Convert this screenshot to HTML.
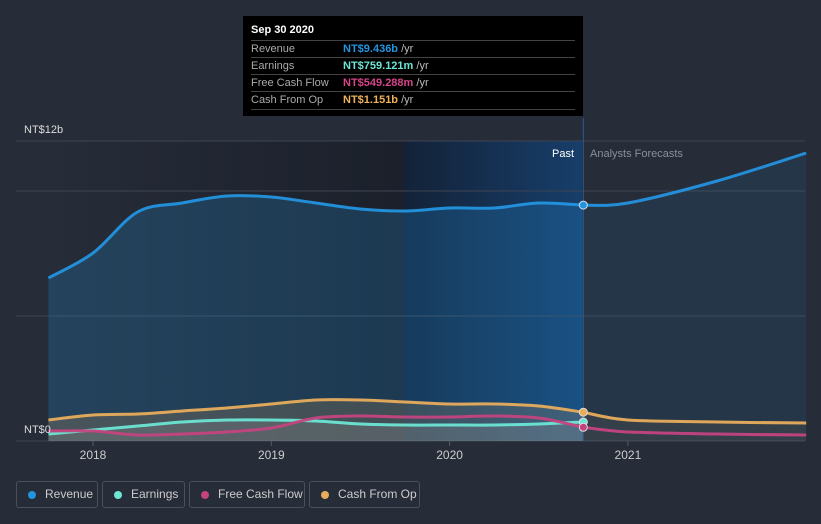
<!DOCTYPE html>
<html><head><meta charset="utf-8"><style>
body{margin:0;background:#262c38;font-family:"Liberation Sans",sans-serif;}
#wrap{position:relative;width:821px;height:524px;overflow:hidden;background:#262c38;}
.tt{position:absolute;left:243px;top:16px;width:340px;height:100px;background:#000;color:#fff;font-size:11px;}
.tt .h{position:absolute;left:8px;top:8px;font-weight:bold;}
.row{position:absolute;left:8px;width:324px;height:17px;border-top:1px solid #444;color:#aaa;line-height:17px;}
.row span.v{position:absolute;left:92px;font-weight:bold;}
.row span.u{color:#bbb;font-weight:normal;}
.lg{position:absolute;top:481px;border:1px solid #4a505c;border-radius:3px;color:#ccc;font-size:12px;line-height:25px;box-sizing:border-box;height:27px;}
.lg i{position:absolute;left:11px;top:9px;width:8px;height:8px;border-radius:50%;}
.lg span{position:absolute;left:28px;}
</style></head><body>
<div id="wrap">
<svg id="svg" width="821" height="524" style="position:absolute;left:0;top:0"></svg>
<div class="tt">
<div class="h">Sep 30 2020</div>
<div class="row" style="top:24px">Revenue<span class="v" style="color:#2394df">NT$9.436b <span class="u">/yr</span></span></div>
<div class="row" style="top:41px">Earnings<span class="v" style="color:#6de6d4">NT$759.121m <span class="u">/yr</span></span></div>
<div class="row" style="top:58px">Free Cash Flow<span class="v" style="color:#d6448a">NT$549.288m <span class="u">/yr</span></span></div>
<div class="row" style="top:75px;border-bottom:1px solid #444">Cash From Op<span class="v" style="color:#eeb35a">NT$1.151b <span class="u">/yr</span></span></div>
</div>
<div class="lg" style="left:16px;width:82px"><i style="background:#2394df"></i><span>Revenue</span></div>
<div class="lg" style="left:102px;width:83px"><i style="background:#6de6d4"></i><span>Earnings</span></div>
<div class="lg" style="left:189px;width:116px"><i style="background:#c4437f"></i><span>Free Cash Flow</span></div>
<div class="lg" style="left:309px;width:111px"><i style="background:#e8ad5c"></i><span>Cash From Op</span></div>
</div>
<script>
const pastT=[2017.75,2018,2018.25,2018.5,2018.75,2019,2019.25,2019.5,2019.75,2020,2020.25,2020.5,2020.75];
const foreT=[2020.75,2021,2021.5,2022];
const revenuePast=[6.52,7.52,9.16,9.52,9.8,9.76,9.52,9.28,9.2,9.32,9.32,9.52,9.436];
const revenueFore=[9.436,9.52,10.4,11.52];
const earningsPast=[0.28,0.44,0.6,0.76,0.84,0.84,0.8,0.68,0.64,0.64,0.64,0.68,0.759];
const fcfPast=[0.4,0.4,0.24,0.28,0.36,0.52,0.92,1.0,0.96,0.96,1.0,0.92,0.549];
const fcfFore=[0.549,0.36,0.28,0.24];
const cfoPast=[0.84,1.04,1.08,1.2,1.32,1.48,1.64,1.64,1.56,1.48,1.48,1.4,1.151];
const cfoFore=[1.151,0.84,0.76,0.72];
const yTicks=[0,5,10,12];
const xTicks=[2018,2019,2020,2021];
const X=t=>93+(t-2018)*178.3, Y=v=>441-v*25;
const svg=document.getElementById('svg'),NS='http://www.w3.org/2000/svg';
function mk(tag,at,name){const e=document.createElementNS(NS,tag);for(const k in at)e.setAttribute(k,at[k]);


svg.appendChild(e);return e;}
function curve(ts,vs){const p=ts.map((t,i)=>[X(t),Y(vs[i])]);let d='M'+p[0][0]+','+p[0][1];
for(let i=0;i<p.length-1;i++){const p0=p[i-1]||p[i],p1=p[i],p2=p[i+1],p3=p[i+2]||p2;
d+=' C'+(p1[0]+(p2[0]-p0[0])/6)+','+(p1[1]+(p2[1]-p0[1])/6)+' '+(p2[0]-(p3[0]-p1[0])/6)+','+(p2[1]-(p3[1]-p1[1])/6)+' '+p2[0]+','+p2[1];}return d;}
const defs=mk('defs',{},'defs');
defs.innerHTML='<linearGradient id="dk" x1="0" x2="1"><stop offset="0" stop-color="#262c38"/><stop offset="1" stop-color="#1b202b"/></linearGradient><linearGradient id="pf" x1="0" x2="1"><stop offset="0" stop-color="#132238"/><stop offset="1" stop-color="#173e6a"/></linearGradient>';
mk('rect',{x:48,y:141,width:356,height:300,fill:'url(#dk)'},'past-background');
mk('rect',{x:404,y:141,width:178,height:300,fill:'url(#pf)'},'past-highlight');
yTicks.forEach(v=>mk('line',{x1:16,x2:805,y1:Y(v),y2:Y(v),stroke:'#3e4452','stroke-width':1},'gridline'));
const base=' L'+X(2020.75)+','+Y(0);
mk('path',{d:curve(pastT,revenuePast)+base+' L'+X(2017.75)+','+Y(0)+'Z',fill:'#2394df','fill-opacity':0.22},'revenue-area-past');
mk('path',{d:curve(foreT,revenueFore)+' L'+X(2022)+','+Y(0)+' L'+X(2020.75)+','+Y(0)+'Z',fill:'#2394df','fill-opacity':0.1},'revenue-area-forecast');
mk('path',{d:curve(pastT,cfoPast)+base+' L'+X(2017.75)+','+Y(0)+'Z',fill:'#e8ad5c','fill-opacity':0.18},'cfo-area');
mk('path',{d:curve(foreT,cfoFore)+' L'+X(2022)+','+Y(0)+' L'+X(2020.75)+','+Y(0)+'Z',fill:'#e8ad5c','fill-opacity':0.08},'cfo-area-forecast');
mk('path',{d:curve(pastT,earningsPast)+base+' L'+X(2017.75)+','+Y(0)+'Z',fill:'#aaa','fill-opacity':0.2},'earnings-area');
mk('line',{x1:X(2020.75),x2:X(2020.75),y1:118,y2:441,stroke:'#2a5a95','stroke-width':1},'current-marker');
const lines=[[pastT,revenuePast,'#2394df','revenue-line'],[foreT,revenueFore,'#2394df','revenue-forecast-line'],
[pastT,cfoPast,'#e8ad5c','cfo-line'],[foreT,cfoFore,'#e8ad5c','cfo-forecast-line'],
[pastT,earningsPast,'#6de6d4','earnings-line'],
[pastT,fcfPast,'#c4437f','fcf-line'],[foreT,fcfFore,'#c4437f','fcf-forecast-line']];
lines.forEach(l=>mk('path',{d:curve(l[0],l[1]),fill:'none',stroke:l[2],'stroke-width':3,'stroke-opacity':0.95},l[3]));
const last=pastT.length-1;
[[cfoPast,'#e8ad5c'],[earningsPast,'#6de6d4'],[fcfPast,'#c4437f'],[revenuePast,'#2394df']].forEach(s=>mk('circle',{cx:X(pastT[last]),cy:Y(s[0][last]),r:4,fill:s[1],stroke:'#ddd','stroke-width':1},'current-point'));
xTicks.forEach(t=>{mk('line',{x1:X(t),x2:X(t),y1:441,y2:446,stroke:'#555c68'},'x-tick');
const e=mk('text',{x:X(t),y:459,'text-anchor':'middle',fill:'#ccc','font-size':12},'x-tick-label');e.textContent=t;});
let e=mk('text',{x:24,y:133,fill:'#ddd','font-size':11},'y-label-top');e.textContent='NT$12b';
e=mk('text',{x:24,y:433,fill:'#ddd','font-size':11},'y-label-zero');e.textContent='NT$0';
e=mk('text',{x:574,y:157,fill:'#fff','font-size':11,'text-anchor':'end'},'past-label');e.textContent='Past';
e=mk('text',{x:590,y:157,fill:'#8a909a','font-size':11},'forecast-label');e.textContent='Analysts Forecasts';
</script>
</body></html>
